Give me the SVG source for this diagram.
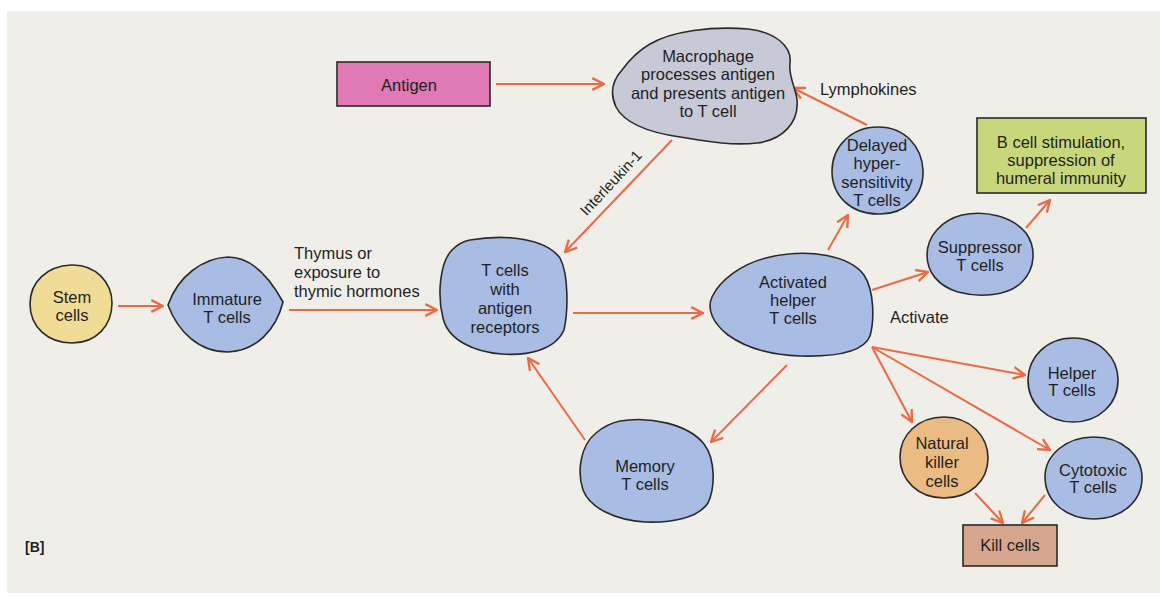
<svg xmlns="http://www.w3.org/2000/svg" width="1160" height="596" viewBox="0 0 1160 596">
<defs>
<style>
.t{font-family:"Liberation Sans",Arial,sans-serif;font-size:16.5px;fill:#1f1f1f;text-anchor:middle}
.ts{font-family:"Liberation Sans",Arial,sans-serif;font-size:16.5px;fill:#1f1f1f;text-anchor:start}
.cell{stroke:#2a2a2a;stroke-width:1.6;stroke-linejoin:round}
.blue{fill:#a9bce3}
.box{stroke:#2a2a2a;stroke-width:1.6}
.arr{stroke:#ea6a45;stroke-width:2;fill:none;marker-end:url(#ah)}
</style>
<marker id="ah" markerUnits="userSpaceOnUse" markerWidth="14" markerHeight="14" viewBox="0 0 12 12" refX="11" refY="6" orient="auto">
<path d="M1,1 L11,6 L1,11" fill="none" stroke="#ea6a45" stroke-width="2"/>
</marker>
</defs>
<rect x="0" y="0" width="1160" height="596" fill="#ffffff"/>
<rect x="7" y="11" width="1153" height="582" fill="#efeee8"/>

<g id="connectors">
<line class="arr" x1="118" y1="306" x2="163" y2="306"/>
<line class="arr" x1="289" y1="310" x2="437" y2="310"/>
<line class="arr" x1="573" y1="313" x2="703" y2="313"/>
<line class="arr" x1="496" y1="84" x2="604" y2="84"/>
<line class="arr" x1="672" y1="140" x2="565" y2="252"/>
<line class="arr" x1="867" y1="125" x2="793" y2="88"/>
<line class="arr" x1="828" y1="250" x2="848" y2="215"/>
<line class="arr" x1="872" y1="290" x2="928" y2="272"/>
<line class="arr" x1="872" y1="347" x2="1025" y2="375"/>
<line class="arr" x1="872" y1="347" x2="912" y2="422"/>
<line class="arr" x1="872" y1="347" x2="1050" y2="450"/>
<line class="arr" x1="787" y1="365" x2="711" y2="442"/>
<line class="arr" x1="585" y1="440" x2="528" y2="358"/>
<line class="arr" x1="1026" y1="228" x2="1050" y2="200"/>
<line class="arr" x1="975" y1="493" x2="1003" y2="523"/>
<line class="arr" x1="1045" y1="495" x2="1022" y2="523"/>
<text class="ts" x="820" y="95">Lymphokines</text>
<text class="t" style="font-size:15px" transform="translate(611,183) rotate(-47)" x="0" y="5">Interleukin-1</text>
<text class="ts" x="294" y="259">Thymus or</text>
<text class="ts" x="294" y="278">exposure to</text>
<text class="ts" x="294" y="297">thymic hormones</text>
<text class="ts" x="890" y="323">Activate</text>
</g>

<g id="antigen">
<rect class="box" x="337" y="62" width="153" height="44" fill="#e07ab6"/>
<text class="t" x="409" y="91">Antigen</text>
</g>

<g id="macrophage">
<path class="cell" fill="#c8c9d6" d="M650,44 C672,31 712,26 748,29 C775,32 792,46 790,63 C788,76 796,88 797,100 C799,122 783,140 757,143 C730,146 705,141 680,137 C652,133 625,124 616,107 C609,92 613,80 622,70 C630,59 638,51 650,44 Z"/>
<text class="t" x="708" y="62">Macrophage</text>
<text class="t" x="708" y="80">processes antigen</text>
<text class="t" x="708" y="99">and presents antigen</text>
<text class="t" x="708" y="117">to T cell</text>
</g>

<g id="stem">
<path class="cell" fill="#f1dc97" d="M71,265 C96,264 112,283 112,303 C112,326 96,343 72,343 C48,343 30,327 30,304 C30,282 47,266 71,265 Z"/>
<text class="t" x="72" y="303">Stem</text>
<text class="t" x="72" y="321">cells</text>
</g>

<g id="immature">
<path class="cell blue" d="M168,305 C178,276 203,258 228,257 C253,257 270,278 283,302 C276,330 256,351 228,352 C199,352 178,332 168,305 Z"/>
<text class="t" x="227" y="305">Immature</text>
<text class="t" x="227" y="323">T cells</text>
</g>

<g id="tcells-antigen">
<path class="cell blue" d="M470,240 C505,234 545,238 560,258 C569,275 568,312 564,330 C555,350 528,356 502,354 C474,352 448,340 443,318 C437,295 440,262 452,250 C458,244 464,241 470,240 Z"/>
<text class="t" x="505" y="276">T cells</text>
<text class="t" x="505" y="295">with</text>
<text class="t" x="505" y="314">antigen</text>
<text class="t" x="505" y="333">receptors</text>
</g>

<g id="activated">
<path class="cell blue" d="M770,257 C810,248 850,256 864,275 C875,292 874,322 870,336 C864,351 838,357 800,356 C770,355 746,348 728,335 C714,324 706,310 712,297 C720,280 742,263 770,257 Z"/>
<text class="t" x="793" y="288">Activated</text>
<text class="t" x="793" y="306">helper</text>
<text class="t" x="793" y="324">T cells</text>
</g>

<g id="delayed">
<path class="cell blue" d="M878,127 C906,127 922,148 923,170 C924,196 905,215 878,214 C851,214 832,196 832,171 C832,147 851,127 878,127 Z"/>
<text class="t" x="877" y="151">Delayed</text>
<text class="t" x="877" y="169">hyper-</text>
<text class="t" x="877" y="188">sensitivity</text>
<text class="t" x="877" y="206">T cells</text>
</g>

<g id="bcell">
<rect class="box" x="977" y="118" width="169" height="75" fill="#c9d77c"/>
<text class="t" x="1061" y="148">B cell stimulation,</text>
<text class="t" x="1061" y="166">suppression of</text>
<text class="t" x="1061" y="184">humeral immunity</text>
</g>

<g id="suppressor">
<path class="cell blue" d="M962,215 C985,210 1012,216 1026,233 C1036,247 1036,268 1022,282 C1008,296 980,298 958,292 C938,286 927,272 927,255 C927,236 942,220 962,215 Z"/>
<text class="t" x="980" y="253">Suppressor</text>
<text class="t" x="980" y="271">T cells</text>
</g>

<g id="helper">
<path class="cell blue" d="M1073,338 C1100,338 1118,358 1118,380 C1118,404 1099,422 1073,422 C1047,422 1028,404 1028,380 C1028,357 1047,338 1073,338 Z"/>
<text class="t" x="1072" y="379">Helper</text>
<text class="t" x="1072" y="396">T cells</text>
</g>

<g id="natural-killer">
<path class="cell" fill="#ebbb84" d="M944,417 C970,417 988,436 988,458 C988,481 970,498 944,498 C918,498 900,480 900,457 C900,435 918,417 944,417 Z"/>
<text class="t" x="942" y="449">Natural</text>
<text class="t" x="942" y="468">killer</text>
<text class="t" x="942" y="487">cells</text>
</g>

<g id="cytotoxic">
<path class="cell blue" d="M1094,437 C1122,437 1142,455 1142,478 C1142,501 1122,519 1094,519 C1066,519 1045,501 1045,477 C1045,455 1066,437 1094,437 Z"/>
<text class="t" x="1093" y="476">Cytotoxic</text>
<text class="t" x="1093" y="493">T cells</text>
</g>

<g id="memory">
<path class="cell blue" d="M620,421 C650,416 688,424 704,444 C716,460 715,488 708,503 C698,518 672,523 645,522 C615,520 590,508 583,490 C577,472 580,446 596,433 C603,427 611,423 620,421 Z"/>
<text class="t" x="645" y="472">Memory</text>
<text class="t" x="645" y="490">T cells</text>
</g>

<g id="kill">
<rect class="box" x="963" y="525" width="94" height="41" fill="#d7a68e"/>
<text class="t" x="1010" y="551">Kill cells</text>
</g>

<g id="figure-label">
<text class="ts" style="font-size:14px;font-weight:bold" x="25" y="552">[B]</text>
</g>
</svg>
